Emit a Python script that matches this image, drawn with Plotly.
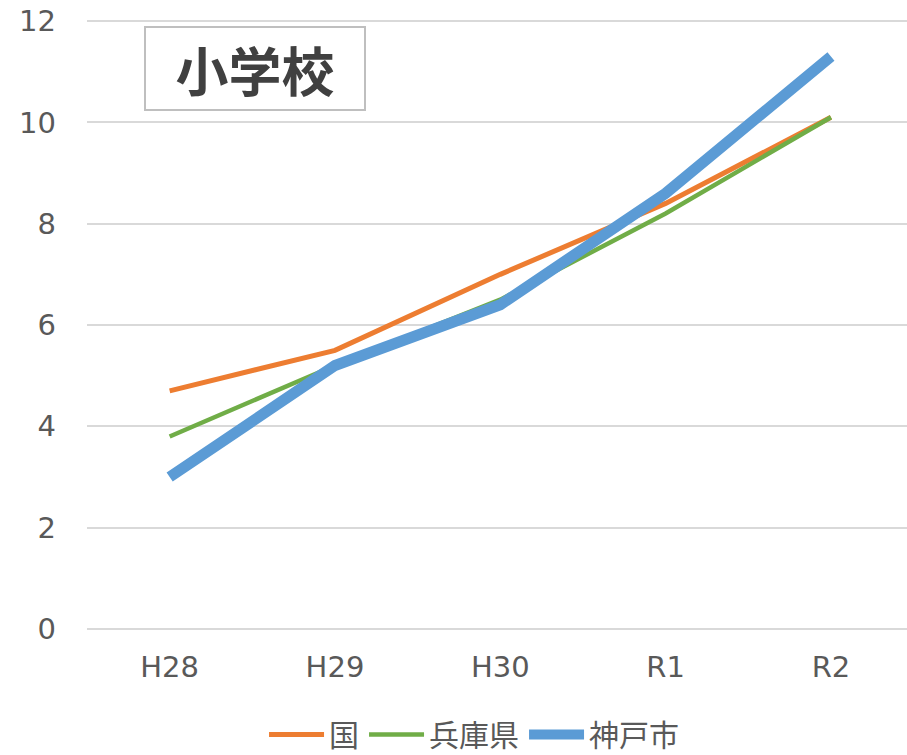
import plotly.graph_objects as go

# School-year categories and rates for elementary schools
years = ["H28", "H29", "H30", "R1", "R2"]
kuni = [4.7, 5.5, 7.0, 8.4, 10.1]        # 国
hyogo = [3.8, 5.2, 6.5, 8.2, 10.1]       # 兵庫県
kobe = [3.0, 5.2, 6.4, 8.6, 11.3]        # 神戸市
y_ticks = [0, 2, 4, 6, 8, 10, 12]

LATIN = "DejaVu Sans, Noto Sans CJK JP"
CJK = "Noto Sans CJK JP"
TEXT = "#595959"

fig = go.Figure()
fig.add_trace(go.Scatter(x=years, y=kuni, name="国", mode="lines",
                         legendgroup="a",
                         line=dict(color="#ED7D31", width=5)))
fig.add_trace(go.Scatter(x=years, y=hyogo, name="兵庫県", mode="lines",
                         legendgroup="b",
                         line=dict(color="#70AD47", width=4.5)))
fig.add_trace(go.Scatter(x=years, y=kobe, name="神戸市", mode="lines",
                         legendgroup="c",
                         line=dict(color="#5B9BD5", width=11)))

fig.update_layout(
    width=907, height=755,
    margin=dict(l=87, r=0, t=19, b=124, autoexpand=False),
    paper_bgcolor="white", plot_bgcolor="white",
    font=dict(family=LATIN, color=TEXT, size=28),
    xaxis=dict(type="category", range=[-0.5, 4.46], showgrid=False,
               showline=False, zeroline=False, ticks="",
               ticklabelstandoff=16,
               tickfont=dict(family=LATIN, size=29, color=TEXT)),
    yaxis=dict(range=[-0.04, 12.04], tickvals=y_ticks, showgrid=True,
               gridcolor="#d9d9d9", gridwidth=2, zeroline=False,
               showline=False, ticks="", ticklabelstandoff=30,
               tickfont=dict(family=LATIN, size=29, color=TEXT)),
    legend=dict(orientation="h", x=0.472, xanchor="center",
                yref="container", y=0.027, yanchor="middle",
                font=dict(family=CJK, size=30, color=TEXT),
                itemwidth=55, tracegroupgap=14),
    showlegend=True,
)

fig.add_annotation(
    text="<b>小学校</b>", xref="paper", yref="paper", x=0.205, y=0.9186,
    xanchor="center", yanchor="middle", showarrow=False,
    font=dict(family=CJK, size=53, color="#404040"),
    width=214, height=77, borderpad=2, borderwidth=2,
    bordercolor="#bfbfbf", bgcolor="white",
)

fig.write_html("out.html")
